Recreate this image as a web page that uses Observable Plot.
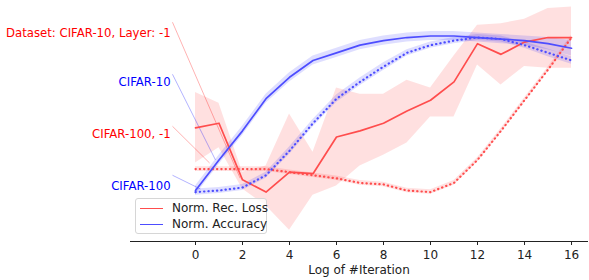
<!DOCTYPE html>
<html>
<head>
<meta charset="utf-8">
<script src="https://cdn.jsdelivr.net/npm/d3@7"></script>
<script src="https://cdn.jsdelivr.net/npm/@observablehq/plot@0.6"></script>
<style>
  html, body { margin: 0; padding: 0; background: #fff; }
  #wrap { position: relative; width: 589px; height: 280px; font-family: "DejaVu Sans", sans-serif; }
  #legend { position: absolute; left: 135px; top: 198px; width: 132px; height: 36px;
    border: 1px solid #d6d6d6; border-radius: 3px; background: rgba(255,255,255,0.8);
    font-size: 12px; color: #222; box-sizing: border-box; }
  .item { position: absolute; left: 4px; height: 14px; display: flex; align-items: center; white-space: nowrap; }
  .sw { width: 23px; height: 0; border-top: 1.8px solid; margin-right: 9px; }
</style>
</head>
<body>
<div id="wrap"><div id="chart"></div>
  <div id="legend"></div>
</div>
<script>
// x: log of #iteration
const iters = [0,1,2,3,4,5,6,7,8,9,10,11,12,13,14,15,16];

// CIFAR-10, layer -1 : normalized reconstruction loss (mean, band)
const c10Loss   = [0.41,0.44,0.07,-0.01,0.12,0.11,0.35,0.39,0.44,0.52,0.59,0.71,0.96,0.89,0.97,1.00,1.00];
const c10LossHi = [0.64,0.57,0.12,0.16,0.50,0.25,0.67,0.63,0.63,0.72,0.67,0.88,1.08,1.09,1.12,1.19,1.20];
const c10LossLo = [0.18,0.28,0.01,-0.10,-0.26,-0.03,0.03,0.16,0.23,0.31,0.48,0.48,0.82,0.69,0.81,0.80,0.80];

// CIFAR-100, layer -1 : normalized reconstruction loss
const c100Loss   = [0.14,0.14,0.14,0.14,0.12,0.10,0.08,0.05,0.04,0.00,-0.01,0.05,0.20,0.39,0.59,0.79,1.00];
const c100LossHi = [0.155,0.155,0.155,0.155,0.135,0.115,0.095,0.065,0.055,0.015,0.005,0.065,0.215,0.405,0.605,0.805,1.015];
const c100LossLo = [0.125,0.125,0.125,0.125,0.105,0.085,0.065,0.035,0.025,-0.015,-0.025,0.035,0.185,0.375,0.575,0.775,0.985];

// CIFAR-10 : normalized accuracy
const c10Acc   = [0.00,0.20,0.39,0.60,0.74,0.85,0.90,0.95,0.98,1.00,1.01,1.01,1.00,0.99,0.98,0.96,0.93];
const c10AccHi = [0.03,0.23,0.42,0.63,0.77,0.88,0.93,0.98,1.01,1.03,1.04,1.04,1.03,1.02,1.01,1.00,0.98];
const c10AccLo = [-0.03,0.17,0.36,0.57,0.71,0.82,0.87,0.92,0.95,0.97,0.98,0.98,0.97,0.96,0.95,0.92,0.88];

// CIFAR-100 : normalized accuracy
const c100Acc   = [-0.01,0.00,0.02,0.10,0.26,0.44,0.60,0.71,0.81,0.90,0.95,0.98,1.00,0.99,0.95,0.90,0.85];
const c100AccHi = [0.01,0.02,0.04,0.12,0.285,0.465,0.625,0.735,0.835,0.92,0.97,1.00,1.02,1.01,0.97,0.925,0.875];
const c100AccLo = [-0.03,-0.02,0.00,0.08,0.235,0.415,0.575,0.685,0.785,0.88,0.93,0.96,0.98,0.97,0.93,0.875,0.825];

// left-side annotations
const annText   = ["Dataset: CIFAR-10, Layer: -1", "CIFAR-10", "CIFAR-100, -1", "CIFAR-100"];
const annColor  = ["red", "blue", "red", "blue"];
const annDash   = ["none", "none", "1.5,2", "1.5,2"];
const annTextX  = [-1.06, -1.06, -1.06, -1.06];
const annTextY  = [1.03, 0.71, 0.37, 0.03];
const annFromX  = [-0.98, -0.98, -0.98, -0.98];
const annFromY  = [1.10, 0.76, 0.42, 0.10];
const annToX    = [1.9, 0.85, 0.6, 0.21];
const annToY    = [0.08, 0.20, 0.18, 0.01];

const xTicks = [0,2,4,6,8,10,12,14,16];
const xLabel = "Log of #Iteration";
const legendLabels = ["Norm. Rec. Loss", "Norm. Accuracy"];
const legendColors = ["#ff4d4d", "#4d4dff"];

const xDomain = [-2.766, 16.68];
const yDomain = [-0.333, 1.242];

const rows = (m, hi, lo) => iters.map((x, i) => ({x, y: m[i], hi: hi[i], lo: lo[i]}));
const rL10 = rows(c10Loss, c10LossHi, c10LossLo);
const rL100 = rows(c100Loss, c100LossHi, c100LossLo);
const rA10 = rows(c10Acc, c10AccHi, c10AccLo);
const rA100 = rows(c100Acc, c100AccHi, c100AccLo);
const ann = annText.map((t, i) => ({t, c: annColor[i], d: annDash[i], tx: annTextX[i], ty: annTextY[i],
  x1: annFromX[i], y1: annFromY[i], x2: annToX[i], y2: annToY[i]}));

const RED = "#ff4d4d", BLUE = "#4d4dff";
const DOT = "0.3,4";

const chart = Plot.plot({
  width: 589, height: 280,
  marginTop: 0, marginRight: 2, marginBottom: 39, marginLeft: 130,
  style: {fontFamily: "DejaVu Sans, sans-serif", fontSize: "12px", color: "#222", background: "white"},
  x: {domain: xDomain, ticks: xTicks, tickSize: 4, tickPadding: 5, line: true, label: null},
  y: {domain: yDomain, axis: null},
  marks: [
    Plot.areaY(rL10, {x: "x", y1: "lo", y2: "hi", fill: "red", fillOpacity: 0.12}),
    Plot.areaY(rL100, {x: "x", y1: "lo", y2: "hi", fill: "red", fillOpacity: 0.12}),
    Plot.areaY(rA10, {x: "x", y1: "lo", y2: "hi", fill: "blue", fillOpacity: 0.13}),
    Plot.areaY(rA100, {x: "x", y1: "lo", y2: "hi", fill: "blue", fillOpacity: 0.13}),
    Plot.link(ann, {x1: "x1", y1: "y1", x2: "x2", y2: "y2", stroke: "c", strokeOpacity: 0.3, strokeWidth: 1, strokeDasharray: d => d.d === "none" ? null : d.d}),
    Plot.lineY(rL10, {x: "x", y: "y", stroke: RED, strokeWidth: 1.7}),
    Plot.lineY(rL100, {x: "x", y: "y", stroke: RED, strokeWidth: 2.2, strokeDasharray: DOT, strokeLinecap: "round"}),
    Plot.lineY(rA10, {x: "x", y: "y", stroke: BLUE, strokeWidth: 1.7}),
    Plot.lineY(rA100, {x: "x", y: "y", stroke: BLUE, strokeWidth: 2.2, strokeDasharray: DOT, strokeLinecap: "round"}),
    Plot.text(ann, {x: "tx", y: "ty", text: "t", fill: "c", textAnchor: "end", fontSize: 11.7}),
    Plot.text([xLabel], {frameAnchor: "bottom", dy: 32, text: d => d, fontSize: 12, fill: "#222"})
  ]
});
document.getElementById("chart").appendChild(chart);

const lg = document.getElementById("legend");
legendLabels.forEach((l, i) => {
  const it = document.createElement("div");
  it.className = "item";
  it.style.top = (2 + i * 16) + "px";
  const sw = document.createElement("span");
  sw.className = "sw";
  sw.style.borderTopColor = legendColors[i];
  it.appendChild(sw);
  it.appendChild(document.createTextNode(l));
  lg.appendChild(it);
});
</script>
</body>
</html>
